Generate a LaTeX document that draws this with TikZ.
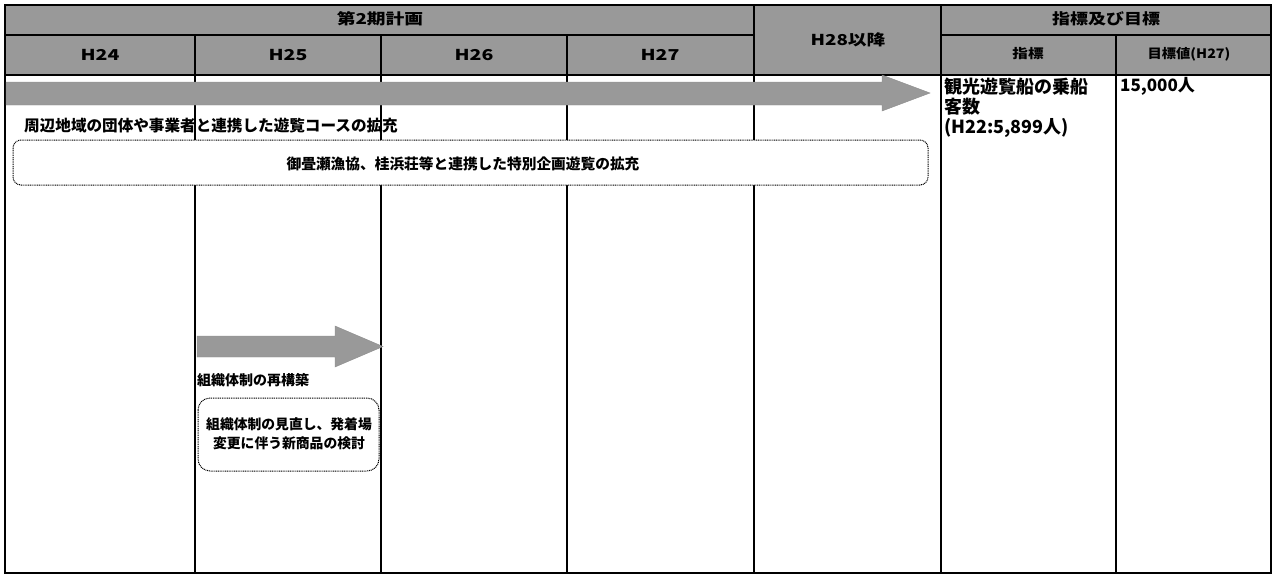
\documentclass[tikz,border=0pt]{standalone}
\usepackage{fontspec}
\setmainfont{Noto Sans CJK JP}
\definecolor{hgray}{gray}{0.6}
\begin{document}
\begin{tikzpicture}[x=1pt,y=-1pt,
  grid/.style={line width=1.3pt,black},
  hdr/.style={font=\fontsize{15}{17}\selectfont\bfseries,inner sep=0pt},
  subhdr/.style={font=\fontsize{13}{15}\selectfont\bfseries,inner sep=0pt},
  body/.style={font=\fontsize{15.6}{17}\selectfont\bfseries,inner sep=0pt},
  big/.style={font=\fontsize{18}{20}\selectfont\bfseries,inner sep=0pt},
  dotbox/.style={draw,fill=white,line width=1pt,dash pattern=on 1pt off 0.8pt},
  bararrow/.style={fill=hgray,draw=black!45,line width=0.4pt}]
\useasboundingbox (0,0) rectangle (1275,576);
% header background
\fill[hgray] (5,5) rectangle (1271,75);
% grid lines
\draw[grid] (195,35) -- (195,573);
\draw[grid] (381,35) -- (381,573);
\draw[grid] (567,35) -- (567,573);
\draw[grid] (754,5) -- (754,573);
\draw[grid] (941,5) -- (941,573);
\draw[grid] (1116,35) -- (1116,573);
\draw[grid] (5,35) -- (754,35);
\draw[grid] (941,35) -- (1271,35);
\draw[grid] (5,75) -- (1271,75);
\draw[line width=1.5pt] (5,5) rectangle (1271,573);
% header texts
\node[hdr] (plan) at (380,19) {\scalebox{1.25}[1]{第2期計画}};
\node[hdr] (h24) at (100,55) {\scalebox{1.3}[1]{H24}};
\node[hdr] (h25) at (288,55) {\scalebox{1.3}[1]{H25}};
\node[hdr] (h26) at (474,55) {\scalebox{1.3}[1]{H26}};
\node[hdr] (h27) at (660,55) {\scalebox{1.3}[1]{H27}};
\node[hdr] (h28) at (848,40) {\scalebox{1.25}[1]{H28以降}};
\node[hdr] (goal) at (1106,19) {\scalebox{1.2}[1]{指標及び目標}};
\node[subhdr] (ind) at (1028,54) {\scalebox{1.2}[1]{指標}};
\node[subhdr] (target) at (1189,54) {\scalebox{1.1}[1]{目標値(H27)}};
% long arrow
\path[bararrow] (6,82) -- (882,82) -- (882,75) -- (930,93) -- (882,111) -- (882,105) -- (6,105) -- cycle;
% first activity
\node[body,anchor=west] (act1) at (24,126) {周辺地域の団体や事業者と連携した遊覧コースの拡充};
\draw[dotbox,rounded corners=8pt] (13,140) rectangle (928,185);
\node[body,font=\fontsize{14.7}{16}\selectfont\bfseries] (act1d) at (463,164) {御畳瀬漁協、桂浜荘等と連携した特別企画遊覧の拡充};
% indicator
\node[big,anchor=north west,align=left] (indtext) at (944,78) {観光遊覧船の乗船\\客数\\(H22:5,899人)};
\node[big,font=\fontsize{17}{19}\selectfont\bfseries,anchor=west] (val) at (1120,86) {15,000人};
% small arrow
\path[bararrow] (197,336) -- (335,336) -- (335,326) -- (383,346.5) -- (335,367) -- (335,357) -- (197,357) -- cycle;
\node[body,font=\fontsize{14}{16}\selectfont\bfseries,anchor=west] (act2) at (197,380) {組織体制の再構築};
\draw[dotbox,rounded corners=12pt] (198,398) rectangle (379,471);
\node[body,font=\fontsize{13.8}{19}\selectfont\bfseries,align=center] (act2d) at (289,434) {組織体制の見直し、発着場\\変更に伴う新商品の検討};
\end{tikzpicture}
\end{document}
